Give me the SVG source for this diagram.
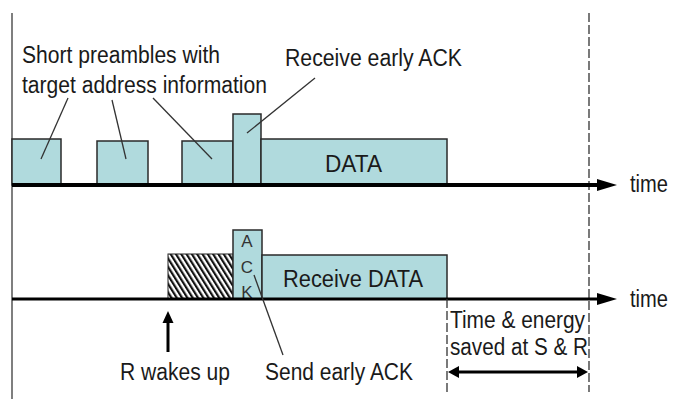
<svg xmlns="http://www.w3.org/2000/svg" width="673" height="399" viewBox="0 0 673 399">
<style>
text{font-family:"Liberation Sans",Arial,sans-serif;fill:#1a1a1a;font-size:23px}
.box{fill:#b0dadd;stroke:#2a2a2a;stroke-width:1.5}
.axis{stroke:#000;fill:none}
.ptr{stroke:#333;stroke-width:1.3;fill:none}
.dash{stroke:#333;stroke-width:1.3;stroke-dasharray:9 3;fill:none}
.ack{font-size:17px;text-anchor:middle;fill:#333}
</style>
<defs>
<pattern id="hatch" width="4.5" height="4.5" patternUnits="userSpaceOnUse" patternTransform="rotate(-32)">
<rect width="4.5" height="4.5" fill="#fff"/>
<rect width="2.2" height="4.5" fill="#111"/>
</pattern>
</defs>
<rect width="673" height="399" fill="#fff"/>
<line x1="12" y1="13" x2="12" y2="399" stroke="#555" stroke-width="1.5"/>
<line class="dash" x1="589" y1="13" x2="589" y2="392"/>
<g id="sender-preamble-1"><rect class="box" x="12" y="139" width="49" height="46"/></g>
<g id="sender-preamble-2"><rect class="box" x="97" y="141" width="51" height="44"/></g>
<g id="sender-preamble-3"><rect class="box" x="182" y="141" width="51" height="44"/></g>
<g id="sender-ack"><rect class="box" x="233" y="114" width="28" height="71"/></g>
<g id="sender-data"><rect class="box" x="261" y="139" width="186" height="46"/><text x="325" y="172" textLength="57" lengthAdjust="spacingAndGlyphs">DATA</text></g>
<g id="receiver-listen"><rect x="168" y="254" width="65" height="45" fill="url(#hatch)" stroke="#222" stroke-width="1"/></g>
<g id="receiver-ack"><rect class="box" x="233" y="230" width="29" height="69"/><text class="ack" x="247" y="247">A</text><text class="ack" x="247" y="273">C</text><text class="ack" x="247" y="298">K</text></g>
<g id="receiver-data"><rect class="box" x="262" y="255" width="185" height="44"/><text x="283" y="287" textLength="140" lengthAdjust="spacingAndGlyphs">Receive DATA</text></g>
<g id="label-preambles"><text x="22" y="63" textLength="198" lengthAdjust="spacingAndGlyphs">Short preambles with</text><text x="22" y="93" textLength="245" lengthAdjust="spacingAndGlyphs">target address information</text></g>
<g id="label-receive-ack"><text x="285" y="66" textLength="177" lengthAdjust="spacingAndGlyphs">Receive early ACK</text></g>
<g id="label-wakes"><text x="120" y="380" textLength="110" lengthAdjust="spacingAndGlyphs">R wakes up</text></g>
<g id="label-send-ack"><text x="265" y="380" textLength="148" lengthAdjust="spacingAndGlyphs">Send early ACK</text></g>
<g id="label-saved"><text x="450" y="328" textLength="135" lengthAdjust="spacingAndGlyphs">Time &amp; energy</text><text x="450" y="355" textLength="138" lengthAdjust="spacingAndGlyphs">saved at S &amp; R</text></g>
<g id="label-time-top"><text x="630" y="192" textLength="38" lengthAdjust="spacingAndGlyphs">time</text></g>
<g id="label-time-bottom"><text x="630" y="307" textLength="38" lengthAdjust="spacingAndGlyphs">time</text></g>
<g id="connectors">
<line class="axis" x1="12" y1="185" x2="600" y2="185" stroke-width="4"/>
<polygon points="597,179 617,185 597,191" fill="#000"/>
<line class="axis" x1="12" y1="299" x2="600" y2="299" stroke-width="3"/>
<polygon points="597,293 617,299 597,305" fill="#000"/>
<line class="ptr" x1="68" y1="98" x2="41" y2="159"/>
<line class="ptr" x1="112" y1="100" x2="126" y2="159"/>
<line class="ptr" x1="153" y1="98" x2="212" y2="159"/>
<line class="ptr" x1="315" y1="78" x2="247" y2="133"/>
<line class="ptr" x1="254" y1="275" x2="283" y2="355"/>
<line x1="168" y1="352" x2="168" y2="318" stroke="#000" stroke-width="3"/>
<polygon points="162.5,323 168,311 173.5,323" fill="#000"/>
<line class="dash" x1="447" y1="299" x2="447" y2="392"/>
<line x1="455" y1="372" x2="581" y2="372" stroke="#000" stroke-width="3"/>
<polygon points="459,366 448,372 459,378" fill="#000"/>
<polygon points="577,366 588,372 577,378" fill="#000"/>
</g>
</svg>
